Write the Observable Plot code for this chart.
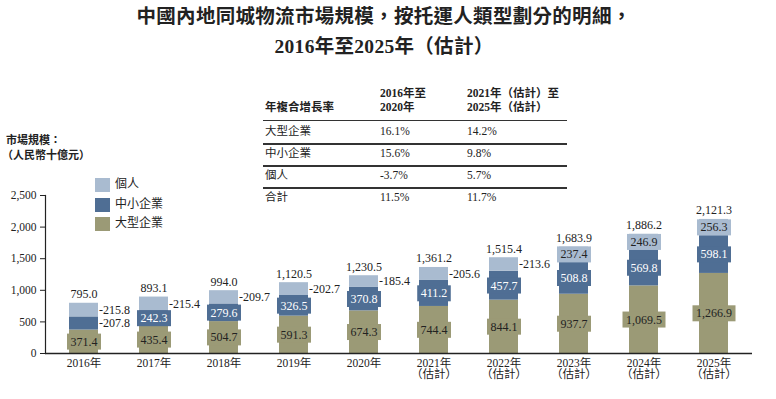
<!DOCTYPE html>
<html>
<head>
<meta charset="utf-8">
<script src="https://cdn.jsdelivr.net/npm/d3@7"></script>
<script src="https://cdn.jsdelivr.net/npm/@observablehq/plot@0.6"></script>
<style>
  html, body { margin: 0; padding: 0; background: #fff; }
  #wrap { position: relative; width: 776px; height: 399px; overflow: hidden;
          font-family: "Liberation Serif", "Noto Sans CJK TC", serif; color: #222; }
  #wrap svg { position: absolute; left: 0; top: 0; }
  .abs { position: absolute; white-space: nowrap; line-height: 1; }
  .title { font-family: "Liberation Serif", "Noto Sans CJK TC", sans-serif; font-weight: bold; font-size: 19.5px; width: 776px; left: 0; text-align: center; letter-spacing: 0.3px; }
  .hline { position: absolute; height: 1.5px; background: #333; }
</style>
</head>
<body>
<div id="wrap"></div>
<script>
// ---- data ----
const years = ["2016","2017","2018","2019","2020","2021","2022","2023","2024","2025"];
const yearLabels = ["2016年","2017年","2018年","2019年","2020年","2021年\n（估計）","2022年\n（估計）","2023年\n（估計）","2024年\n（估計）","2025年\n（估計）"];
const large = [371.4, 435.4, 504.7, 591.3, 674.3, 744.4, 844.1, 937.7, 1069.5, 1266.9];
const sme = [207.8, 242.3, 279.6, 326.5, 370.8, 411.2, 457.7, 508.8, 569.8, 598.1];
const individual = [215.8, 215.4, 209.7, 202.7, 185.4, 205.6, 213.6, 237.4, 246.9, 256.3];
const totals = [795.0, 893.1, 994.0, 1120.5, 1230.5, 1361.2, 1515.4, 1683.9, 1886.2, 2121.3];
const seriesNames = ["大型企業", "中小企業", "個人"];
const seriesColors = ["#9b9a76", "#4f6e94", "#a9bbd0"];
const yTicks = [0, 500, 1000, 1500, 2000, 2500];
// CAGR table
const cagrTitle = "年複合增長率";
const cagrHead1 = ["2016年至", "2020年"];
const cagrHead2 = ["2021年（估計）至", "2025年（估計）"];
const cagrRows = ["大型企業", "中小企業", "個人", "合計"];
const cagr1 = ["16.1%", "15.6%", "-3.7%", "11.5%"];
const cagr2 = ["14.2%", "9.8%", "5.7%", "11.7%"];
// labels placed outside the bar (with leader dash)
const outsideIndividual = [true, true, true, true, true, true, true, false, false, false];
const outsideSme = [true, false, false, false, false, false, false, false, false, false];

// ---- build table ----
const fmt = d3.format(",.1f");
const rows = [];
years.forEach((yr, i) => {
  const vals = [large[i], sme[i], individual[i]];
  let base = 0;
  vals.forEach((v, j) => {
    rows.push({year: yr, series: seriesNames[j], value: v, y1: base, y2: base + v, mid: base + v / 2,
      outside: j === 2 ? outsideIndividual[i] : (j === 1 ? outsideSme[i] : false)});
    base += v;
  });
});
const totalRows = years.map((yr, i) => ({year: yr, total: totals[i]}));
const inside = rows.filter(d => !d.outside);
const outside = rows.filter(d => d.outside);

const font = "'Liberation Serif', 'Noto Sans CJK TC', serif";
const fs = 12;
const chart = Plot.plot({
  width: 776,
  height: 399,
  marginTop: 195,
  marginBottom: 46,
  marginLeft: 45,
  marginRight: 24,
  style: {fontFamily: font, fontSize: "11.5px", color: "#222", background: "transparent"},
  x: {domain: years, paddingInner: 0.588, paddingOuter: 0.314, label: null,
      tickSize: 0, tickPadding: 5, tickFormat: d => yearLabels[years.indexOf(d)]},
  y: {domain: [0, 2500], ticks: yTicks, tickFormat: d3.format(","), label: null, tickSize: 5, tickPadding: 4},
  color: {domain: seriesNames, range: seriesColors},
  marks: [
    Plot.barY(rows, {x: "year", y1: "y1", y2: "y2", fill: "series"}),
    // inside labels (background box added below from the series colour)
    Plot.text(inside, {x: "year", y: "mid", text: d => fmt(d.value), fill: d => d.series === "中小企業" ? "#fff" : "#222",
      stroke: "series", strokeWidth: 0, fontSize: fs, className: "boxlabel"}),
    // outside labels with leader dash
    Plot.text(outside, {x: "year", y: "mid", text: d => "-" + fmt(d.value), textAnchor: "start", dx: 15, fill: "#222", fontSize: fs}),
    // totals
    Plot.text(totalRows, {x: "year", y: "total", text: d => fmt(d.total), dy: -9, fill: "#222", fontSize: fs}),
    Plot.frame({anchor: "left", stroke: "#222", strokeWidth: 1.2}),
    Plot.ruleY([0], {stroke: "#222", strokeWidth: 1.5})
  ]
});
const wrap = document.getElementById("wrap");
wrap.appendChild(chart);

// rectangular label backgrounds in the segment colour
chart.querySelectorAll("g.boxlabel text").forEach(t => {
  const b = t.getBBox();
  const col = t.getAttribute("stroke");
  const r = document.createElementNS("http://www.w3.org/2000/svg", "rect");
  const padX = 3.5, padY = 1.5;
  r.setAttribute("x", b.x - padX);
  r.setAttribute("y", b.y - padY + 0.5);
  r.setAttribute("width", b.width + 2 * padX);
  r.setAttribute("height", b.height + 2 * padY - 1);
  r.setAttribute("fill", col);
  const tr = t.getAttribute("transform");
  if (tr) r.setAttribute("transform", tr);
  t.parentNode.insertBefore(r, t);
  t.removeAttribute("stroke");
});

function addText(txt, left, top, style) {
  const d = document.createElement("div");
  d.className = "abs";
  d.textContent = txt;
  d.style.left = left + "px";
  d.style.top = top + "px";
  Object.assign(d.style, style || {});
  wrap.appendChild(d);
  return d;
}
// title
const t1 = addText("中國內地同城物流市場規模，按托運人類型劃分的明細，", 0, 7, {}); t1.className = "abs title"; t1.style.left = "-4px";
const t2 = addText("2016年至2025年（估計）", 0, 37, {}); t2.className = "abs title"; t2.style.left = "-4px";
// y axis title
addText("市場規模：", 6, 135, {fontSize: "11px", fontWeight: "bold"});
addText("（人民幣十億元）", 2, 150, {fontSize: "11px", fontWeight: "bold"});
// legend
const legendOrder = [2, 1, 0];
legendOrder.forEach((j, k) => {
  const sw = document.createElement("div");
  sw.style.cssText = `position:absolute;left:95px;top:${178 + k * 19.5}px;width:15px;height:14px;background:${seriesColors[j]}`;
  wrap.appendChild(sw);
  addText(seriesNames[j], 115, 178 + k * 19.5, {fontSize: "12px"});
});
// CAGR table
const tl = 263, tr = 567;
addText(cagrTitle, 265, 102, {fontSize: "11.5px", fontWeight: "bold"});
cagrHead1.forEach((s, i) => addText(s, 380, 88 + i * 13.5, {fontSize: "11.5px", fontWeight: "bold"}));
cagrHead2.forEach((s, i) => addText(s, 467, 88 + i * 13.5, {fontSize: "11.5px", fontWeight: "bold"}));
const lineYs = [119.5, 143, 165, 187];
lineYs.forEach(y => {
  const l = document.createElement("div");
  l.className = "hline";
  l.style.left = tl + "px"; l.style.top = y + "px"; l.style.width = (tr - tl) + "px";
  wrap.appendChild(l);
});
const rowY = [126, 148, 170, 192];
cagrRows.forEach((r, i) => {
  addText(r, 265, rowY[i], {fontSize: "11.5px"});
  addText(cagr1[i], 380, rowY[i], {fontSize: "11.5px"});
  addText(cagr2[i], 467, rowY[i], {fontSize: "11.5px"});
});
</script>
</body>
</html>
